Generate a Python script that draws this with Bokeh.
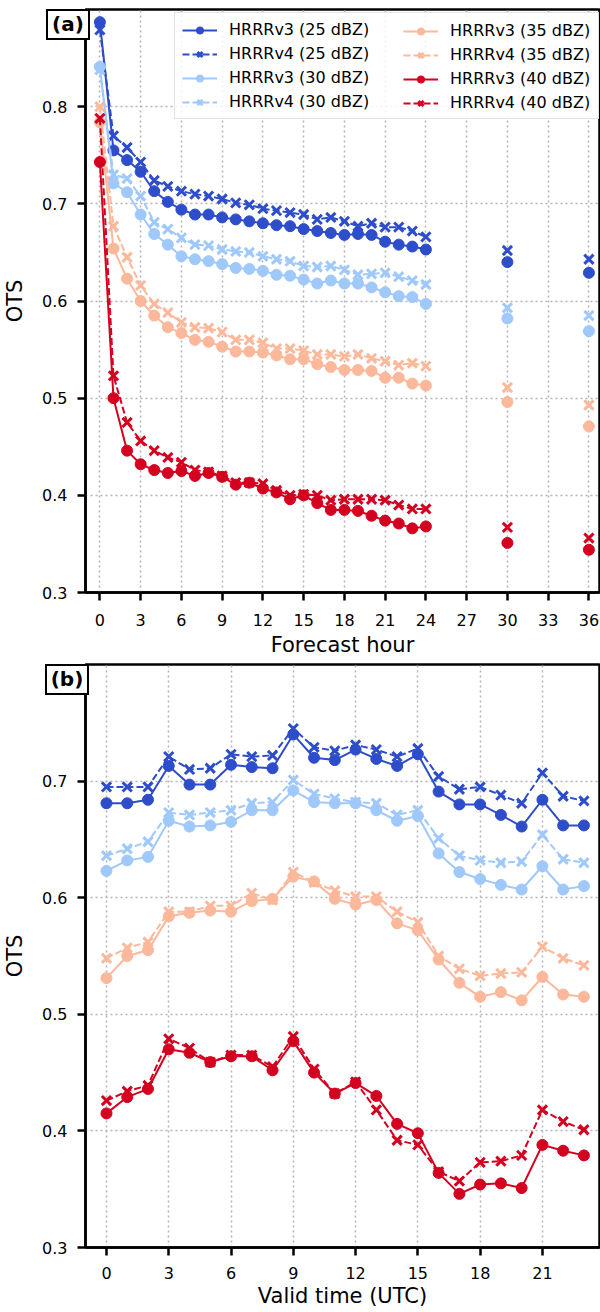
from bokeh.plotting import figure
from bokeh.models import (Legend, LegendItem, FixedTicker, Range1d, Div)
from bokeh.layouts import column
from bokeh.embed import file_html
from bokeh.resources import INLINE

# ---------------- data: panel (a) ----------------
fhours = list(range(0, 25)) + [30, 36]
a_v3_25 = [0.887, 0.755, 0.745, 0.733, 0.713, 0.702, 0.694, 0.689, 0.689, 0.686, 0.684, 0.682, 0.680,
           0.678, 0.677, 0.674, 0.672, 0.670, 0.668, 0.669, 0.668, 0.661, 0.658, 0.656, 0.653, 0.640, 0.629]
a_v4_25 = [0.879, 0.770, 0.758, 0.743, 0.724, 0.718, 0.713, 0.710, 0.708, 0.705, 0.701, 0.699, 0.695,
           0.693, 0.691, 0.689, 0.684, 0.686, 0.682, 0.677, 0.680, 0.676, 0.676, 0.672, 0.666, 0.652, 0.643]
a_v3_30 = [0.841, 0.721, 0.712, 0.689, 0.669, 0.658, 0.646, 0.643, 0.641, 0.638, 0.634, 0.633, 0.631,
           0.627, 0.626, 0.622, 0.618, 0.621, 0.618, 0.618, 0.614, 0.609, 0.605, 0.604, 0.597, 0.582, 0.569]
a_v4_30 = [0.838, 0.730, 0.726, 0.708, 0.681, 0.674, 0.665, 0.658, 0.657, 0.653, 0.651, 0.650, 0.646,
           0.643, 0.641, 0.636, 0.635, 0.636, 0.632, 0.627, 0.628, 0.629, 0.625, 0.621, 0.617, 0.593, 0.585]
a_v3_35 = [0.784, 0.654, 0.623, 0.600, 0.585, 0.573, 0.567, 0.560, 0.558, 0.553, 0.548, 0.548, 0.547,
           0.544, 0.540, 0.540, 0.535, 0.532, 0.529, 0.529, 0.528, 0.521, 0.521, 0.515, 0.513, 0.496, 0.471]
a_v4_35 = [0.800, 0.677, 0.645, 0.616, 0.597, 0.588, 0.578, 0.573, 0.572, 0.568, 0.560, 0.560, 0.557,
           0.551, 0.551, 0.549, 0.545, 0.545, 0.543, 0.545, 0.541, 0.538, 0.534, 0.536, 0.533, 0.511, 0.493]
a_v3_40 = [0.743, 0.500, 0.446, 0.432, 0.426, 0.423, 0.425, 0.420, 0.423, 0.419, 0.411, 0.413, 0.407,
           0.403, 0.396, 0.400, 0.392, 0.385, 0.385, 0.384, 0.379, 0.374, 0.371, 0.366, 0.368, 0.351, 0.344]
a_v4_40 = [0.788, 0.523, 0.475, 0.456, 0.446, 0.439, 0.434, 0.426, 0.424, 0.420, 0.413, 0.413, 0.412,
           0.405, 0.400, 0.401, 0.400, 0.395, 0.396, 0.396, 0.396, 0.395, 0.390, 0.386, 0.386, 0.367, 0.356]

# ---------------- data: panel (b) ----------------
vhours = list(range(0, 24))
b_v3_25 = [0.681, 0.681, 0.684, 0.713, 0.697, 0.697, 0.714, 0.712, 0.711, 0.740, 0.720, 0.718,
           0.727, 0.719, 0.713, 0.723, 0.691, 0.680, 0.680, 0.671, 0.661, 0.684, 0.662, 0.662]
b_v4_25 = [0.695, 0.695, 0.695, 0.721, 0.710, 0.711, 0.723, 0.721, 0.722, 0.745, 0.729, 0.726,
           0.731, 0.727, 0.721, 0.728, 0.704, 0.693, 0.695, 0.688, 0.681, 0.707, 0.687, 0.683]
b_v3_30 = [0.623, 0.632, 0.635, 0.666, 0.661, 0.662, 0.665, 0.675, 0.675, 0.692, 0.682, 0.681,
           0.681, 0.675, 0.666, 0.670, 0.638, 0.622, 0.616, 0.611, 0.607, 0.627, 0.607, 0.610]
b_v4_30 = [0.636, 0.642, 0.648, 0.673, 0.671, 0.673, 0.675, 0.681, 0.682, 0.701, 0.689, 0.685,
           0.682, 0.681, 0.671, 0.675, 0.651, 0.636, 0.632, 0.630, 0.631, 0.654, 0.633, 0.630]
b_v3_35 = [0.531, 0.550, 0.555, 0.584, 0.587, 0.589, 0.588, 0.597, 0.599, 0.618, 0.614, 0.599,
           0.594, 0.598, 0.578, 0.572, 0.547, 0.527, 0.515, 0.519, 0.512, 0.532, 0.517, 0.515]
b_v4_35 = [0.548, 0.557, 0.562, 0.588, 0.588, 0.593, 0.593, 0.604, 0.598, 0.622, 0.613, 0.606,
           0.601, 0.601, 0.588, 0.579, 0.550, 0.539, 0.533, 0.535, 0.536, 0.558, 0.548, 0.542]
b_v3_40 = [0.415, 0.429, 0.436, 0.470, 0.467, 0.459, 0.464, 0.464, 0.452, 0.477, 0.450, 0.432,
           0.441, 0.430, 0.406, 0.398, 0.364, 0.346, 0.354, 0.355, 0.351, 0.388, 0.383, 0.379]
b_v4_40 = [0.426, 0.434, 0.439, 0.479, 0.471, 0.459, 0.465, 0.465, 0.455, 0.481, 0.453, 0.432,
           0.442, 0.418, 0.392, 0.388, 0.365, 0.357, 0.373, 0.374, 0.379, 0.418, 0.408, 0.401]

labels = ["HRRRv3 (25 dBZ)", "HRRRv4 (25 dBZ)", "HRRRv3 (30 dBZ)", "HRRRv4 (30 dBZ)",
          "HRRRv3 (35 dBZ)", "HRRRv4 (35 dBZ)", "HRRRv3 (40 dBZ)", "HRRRv4 (40 dBZ)"]
panel_names = ["(a)", "(b)"]
colors = ["#2d4dca", "#2d4dca", "#9fc8fb", "#9fc8fb", "#fbb89a", "#fbb89a", "#d4001f", "#d4001f"]
a_ticks = list(range(0, 37, 3))
b_ticks = list(range(0, 22, 3))
a_yticks = [0.3, 0.4, 0.5, 0.6, 0.7, 0.8]
b_yticks = [0.3, 0.4, 0.5, 0.6, 0.7]

FONT = "DejaVu Sans"


def style(p, xticks, yticks, xlabel, lab_standoff, title_standoff):
    p.xaxis.ticker = FixedTicker(ticks=xticks)
    p.yaxis.ticker = FixedTicker(ticks=yticks)
    p.yaxis.formatter.use_scientific = False
    for ax in (p.xaxis[0], p.yaxis[0]):
        ax.axis_line_width = 2.5
        ax.axis_line_color = "black"
        ax.major_tick_line_width = 2.5
        ax.major_tick_line_color = "black"
        ax.major_tick_out = 8
        ax.major_tick_in = 0
        ax.minor_tick_line_color = None
        ax.major_label_text_font = FONT
        ax.major_label_text_font_size = "16px"
        ax.major_label_text_color = "black"
        ax.axis_label_text_font = FONT
        ax.axis_label_text_font_size = "21px"
        ax.axis_label_text_font_style = "normal"
        ax.axis_label_text_color = "black"
    p.xaxis.major_label_standoff = lab_standoff
    p.yaxis.major_label_standoff = 10
    p.xaxis.axis_label_standoff = title_standoff
    p.yaxis.axis_label_standoff = 12
    p.xaxis.axis_label = xlabel
    p.yaxis.axis_label = "OTS"
    for g in (p.xgrid[0], p.ygrid[0]):
        g.grid_line_color = "#b3b3b3"
        g.grid_line_width = 1.5
        g.grid_line_dash = "2 3"
    p.xgrid.ticker = FixedTicker(ticks=xticks)
    p.ygrid.ticker = FixedTicker(ticks=yticks)
    p.outline_line_color = "black"
    p.outline_line_width = 2.5
    p.background_fill_color = "white"
    p.border_fill_color = "white"


def draw(p, x, series, nline):
    rends = []
    for i, ys in enumerate(series):
        v4 = i % 2 == 1
        lr = p.line(x[:nline], ys[:nline], line_color=colors[i], line_width=2,
                    line_dash="7 3" if v4 else "solid")
        if v4:
            sr = p.scatter(x, ys, marker="x", size=13, line_color=colors[i], line_width=3)
        else:
            sr = p.scatter(x, ys, marker="circle", size=11, fill_color=colors[i],
                           line_color=colors[i], line_width=1)
        rends.append([lr, sr])
    return rends


def panel_div(text, left, top):
    return Div(text=text, styles={
        "position": "absolute", "left": f"{left}px", "top": f"{top}px", "z-index": "10",
        "box-sizing": "border-box", "width": "44px", "height": "31px",
        "background-color": "white", "border": "2.5px solid black", "border-radius": "0px",
        "font-family": FONT, "font-weight": "bold", "font-size": "20px",
        "line-height": "26px", "text-align": "center", "color": "black"})


# ---------------- panel (a) ----------------
p1 = figure(frame_width=514, frame_height=583, output_backend="svg", toolbar_location=None,
            x_range=Range1d(-1.06, 36.78), y_range=Range1d(0.3, 0.9),
            min_border_left=84, min_border_right=2, min_border_top=9, min_border_bottom=70)
style(p1, a_ticks, a_yticks, "Forecast hour", 13, 4)
series_a = [a_v3_25, a_v4_25, a_v3_30, a_v4_30, a_v3_35, a_v4_35, a_v3_40, a_v4_40]
rends = draw(p1, fhours, series_a, 25)

common = dict(label_text_font=FONT, label_text_font_size="16px", label_text_color="black",
              glyph_width=35, glyph_height=18, label_height=18, label_standoff=12,
              spacing=5, padding=7, margin=0, border_line_color="#cccccc",
              border_line_width=1.5)
leg1 = Legend(items=[LegendItem(label=labels[i], renderers=rends[i]) for i in range(4)],
              location=(89, 473), label_width=372,
              background_fill_color="white", background_fill_alpha=0.85, **common)
leg2 = Legend(items=[LegendItem(label=labels[i], renderers=rends[i]) for i in range(4, 8)],
              location=(311, 473), label_width=140, border_line_alpha=0.0,
              background_fill_alpha=0.0, **common)
p1.add_layout(leg1, "center")
p1.add_layout(leg2, "center")

# ---------------- panel (b) ----------------
p2 = figure(frame_width=514, frame_height=583, output_backend="svg", toolbar_location=None,
            x_range=Range1d(-1.01, 23.75), y_range=Range1d(0.3, 0.8),
            min_border_left=84, min_border_right=2, min_border_top=2, min_border_bottom=65)
style(p2, b_ticks, b_yticks, "Valid time (UTC)", 11, 2)
series_b = [b_v3_25, b_v4_25, b_v3_30, b_v4_30, b_v3_35, b_v4_35, b_v3_40, b_v4_40]
draw(p2, vhours, series_b, 24)

div_a = panel_div(panel_names[0], 41, 4)
div_b = panel_div(panel_names[1], 40, 659)

layout = column(p1, p2, div_a, div_b, spacing=0)
open("out.html", "w").write(file_html(layout, INLINE))
